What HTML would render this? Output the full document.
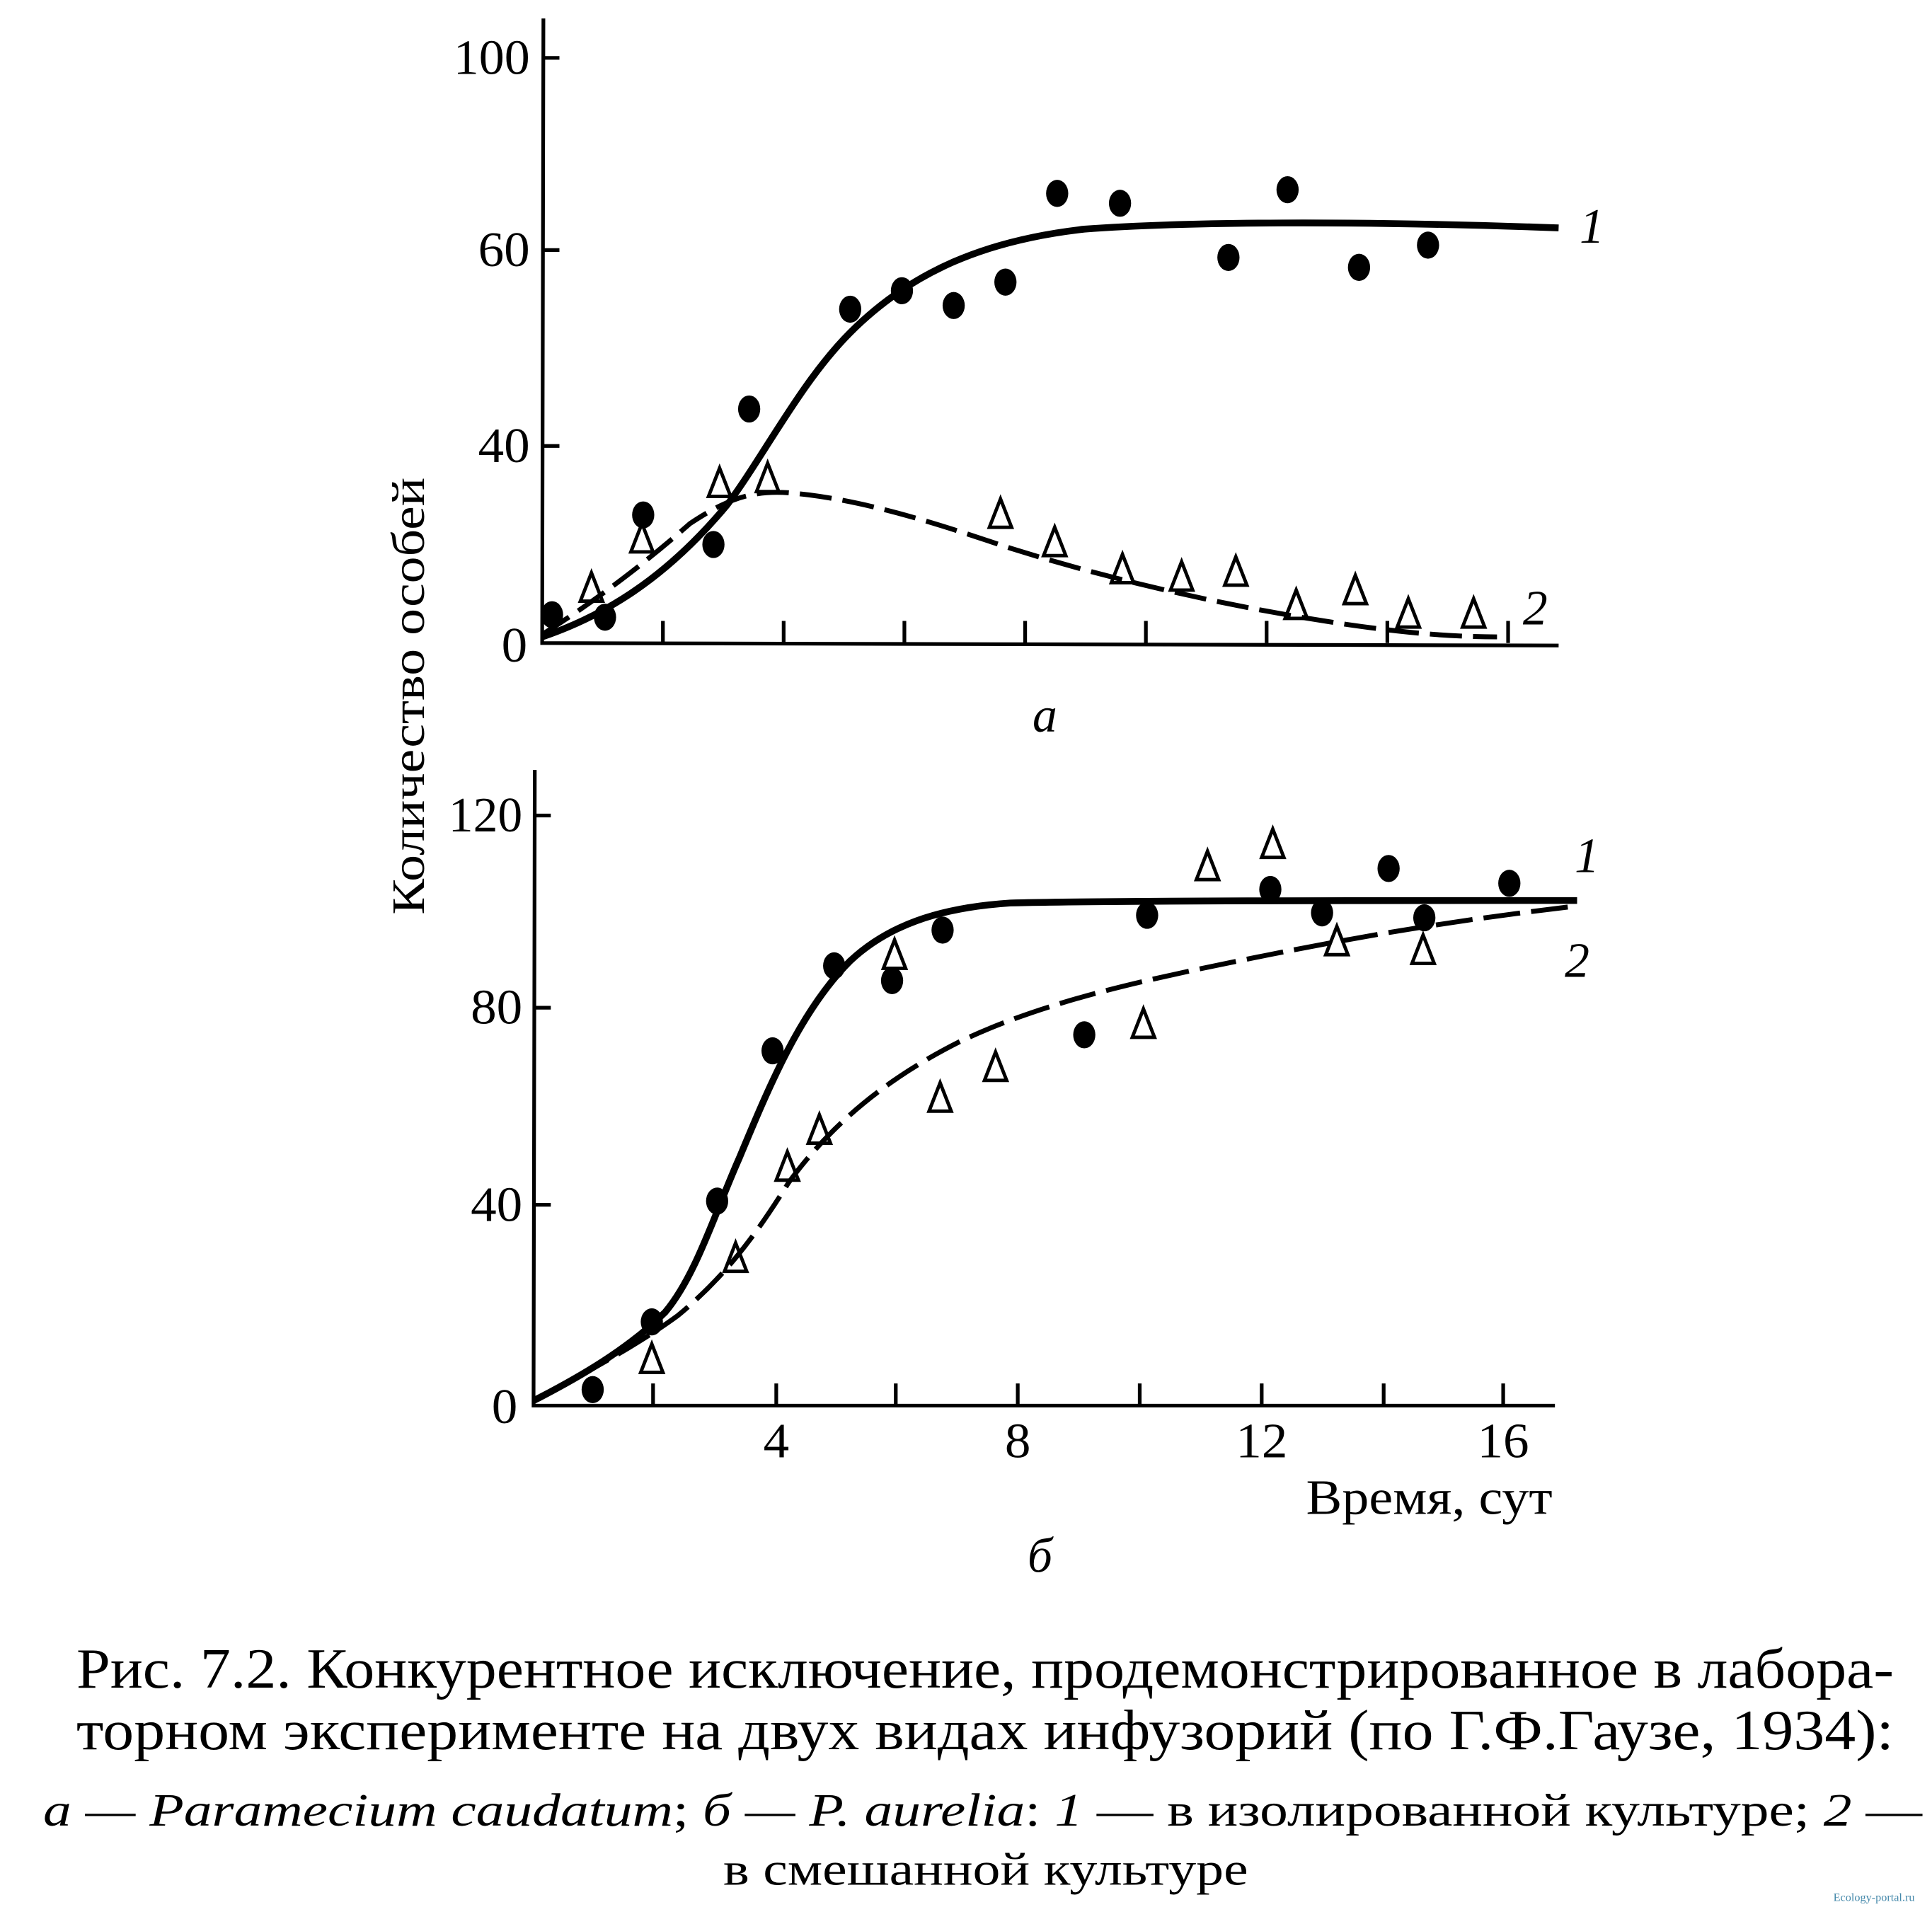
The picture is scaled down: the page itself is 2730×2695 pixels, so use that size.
<!DOCTYPE html>
<html><head><meta charset="utf-8"><style>html,body{margin:0;padding:0;background:#fff}svg{display:block}</style></head>
<body>
<svg width="2730" height="2695" viewBox="0 0 1568 1548" xmlns="http://www.w3.org/2000/svg" font-family="'Liberation Serif', 'Noto Serif CJK SC', serif">
<rect width="1568" height="1548" fill="#fff"/>
<defs>
<ellipse id="d" cx="0" cy="0" rx="9" ry="11" fill="#000"/>
<path id="t" d="M0,-12 L-9,11 L9,11 Z" fill="none" stroke="#000" stroke-width="2.8" stroke-linejoin="miter"/>
</defs>
<!-- Panel a axes -->
<g stroke="#000" stroke-width="3" fill="none">
<path d="M441,15 L440,522 L1265,524"/>
<path d="M440,47 h14 M440,203 h14 M440,362 h14"/>
<path d="M538,522 v-18 M636,522 v-18 M734,522 v-18 M832,522 v-18 M930,522 v-18 M1028,522 v-18 M1126,522 v-18 M1224,522 v-18"/>
</g>
<g font-size="40" text-anchor="end">
<text x="430" y="60" textLength="62" lengthAdjust="spacingAndGlyphs">100</text>
<text x="430" y="216" textLength="42" lengthAdjust="spacingAndGlyphs">60</text>
<text x="430" y="375" textLength="42" lengthAdjust="spacingAndGlyphs">40</text>
<text x="428" y="537" textLength="21" lengthAdjust="spacingAndGlyphs">0</text>
</g>
<path d="M440,517 C490,500 540,470 590,410 C620,370 650,310 690,270 C740,220 800,195 880,186 C960,180 1100,179 1265,185" fill="none" stroke="#000" stroke-width="5.5"/>
<path d="M440,515 C480,490 520,460 560,425 C590,405 610,398 640,400 C700,405 760,425 820,445 C900,470 980,488 1050,500 C1120,512 1170,517 1215,517" fill="none" stroke="#000" stroke-width="4" stroke-dasharray="26 9"/>
<g>
<use href="#d" x="448" y="499"/><use href="#d" x="491" y="501"/><use href="#d" x="522" y="418"/><use href="#d" x="579" y="442"/><use href="#d" x="608" y="332"/><use href="#d" x="690" y="251"/><use href="#d" x="732" y="236"/><use href="#d" x="774" y="248"/><use href="#d" x="816" y="229"/><use href="#d" x="858" y="157"/><use href="#d" x="909" y="165"/><use href="#d" x="997" y="209"/><use href="#d" x="1045" y="154"/><use href="#d" x="1103" y="217"/><use href="#d" x="1159" y="199"/>
<use href="#t" x="480" y="477"/><use href="#t" x="521" y="437"/><use href="#t" x="584" y="392"/><use href="#t" x="623" y="388"/><use href="#t" x="812" y="417"/><use href="#t" x="856" y="440"/><use href="#t" x="911" y="462"/><use href="#t" x="959" y="468"/><use href="#t" x="1003" y="464"/><use href="#t" x="1052" y="491"/><use href="#t" x="1100" y="479"/><use href="#t" x="1143" y="498"/><use href="#t" x="1196" y="498"/>
</g>
<g font-size="40" font-style="italic">
<text x="1282" y="197">1</text>
<text x="1236" y="507">2</text>
<text x="838" y="594">а</text>
</g>
<!-- Y label -->
<text transform="translate(344,565) rotate(-90)" font-size="38" text-anchor="middle" textLength="355" lengthAdjust="spacingAndGlyphs">Количество особей</text>
<!-- Panel b axes -->
<g stroke="#000" stroke-width="3" fill="none">
<path d="M434,625 L433,1141 L1262,1141"/>
<path d="M433,662 h14 M433,818 h14 M433,978 h14"/>
<path d="M530,1141 v-18 M630,1141 v-18 M727,1141 v-18 M826,1141 v-18 M925,1141 v-18 M1024,1141 v-18 M1123,1141 v-18 M1220,1141 v-18"/>
</g>
<g font-size="40" text-anchor="end">
<text x="424" y="675" textLength="60" lengthAdjust="spacingAndGlyphs">120</text>
<text x="424" y="831" textLength="42" lengthAdjust="spacingAndGlyphs">80</text>
<text x="424" y="991" textLength="42" lengthAdjust="spacingAndGlyphs">40</text>
<text x="420" y="1155" textLength="21" lengthAdjust="spacingAndGlyphs">0</text>
</g>
<g font-size="40" text-anchor="middle">
<text x="630" y="1183" textLength="21" lengthAdjust="spacingAndGlyphs">4</text>
<text x="826" y="1183" textLength="21" lengthAdjust="spacingAndGlyphs">8</text>
<text x="1024" y="1183" textLength="42" lengthAdjust="spacingAndGlyphs">12</text>
<text x="1220" y="1183" textLength="42" lengthAdjust="spacingAndGlyphs">16</text>
</g>
<text x="1260" y="1229" font-size="40" text-anchor="end" textLength="200" lengthAdjust="spacingAndGlyphs">Время, сут</text>
<text x="834" y="1276" font-size="40" font-style="italic">б</text>
<path d="M433,1137 C470,1118 510,1095 540,1065 C565,1035 580,985 600,940 C625,880 650,820 690,780 C720,752 760,737 820,733 C900,731 1100,731 1280,731" fill="none" stroke="#000" stroke-width="5.5"/>
<path d="M433,1137 C480,1112 520,1090 550,1068 C590,1035 615,1000 640,960 C680,905 730,870 780,845 C850,812 930,795 1030,775 C1130,755 1200,745 1275,736" fill="none" stroke="#000" stroke-width="4" stroke-dasharray="30 9"/>
<g>
<use href="#d" x="481" y="1128"/><use href="#d" x="529" y="1073"/><use href="#d" x="582" y="975"/><use href="#d" x="627" y="853"/><use href="#d" x="677" y="784"/><use href="#d" x="724" y="796"/><use href="#d" x="765" y="755"/><use href="#d" x="880" y="840"/><use href="#d" x="931" y="743"/><use href="#d" x="1031" y="722"/><use href="#d" x="1073" y="741"/><use href="#d" x="1127" y="705"/><use href="#d" x="1156" y="745"/><use href="#d" x="1225" y="717"/>
<use href="#t" x="529" y="1103"/><use href="#t" x="597" y="1021"/><use href="#t" x="639" y="947"/><use href="#t" x="665" y="917"/><use href="#t" x="726" y="775"/><use href="#t" x="763" y="891"/><use href="#t" x="808" y="866"/><use href="#t" x="928" y="831"/><use href="#t" x="980" y="703"/><use href="#t" x="1033" y="685"/><use href="#t" x="1085" y="764"/><use href="#t" x="1155" y="771"/>
</g>
<g font-size="40" font-style="italic">
<text x="1278" y="708">1</text>
<text x="1270" y="793">2</text>
</g>
<!-- Caption -->
<g font-size="46">
<text x="62" y="1370" textLength="1475" lengthAdjust="spacingAndGlyphs">Рис. 7.2. Конкурентное исключение, продемонстрированное в лабора-</text>
<text x="62" y="1420" textLength="1475" lengthAdjust="spacingAndGlyphs">торном эксперименте на двух видах инфузорий (по Г.Ф.Гаузе, 1934):</text>
</g>
<text x="35" y="1482" font-size="38" textLength="1525" lengthAdjust="spacingAndGlyphs"><tspan font-style="italic">а — Paramecium caudatum</tspan>; <tspan font-style="italic">б — P. aurelia</tspan>: <tspan font-style="italic">1</tspan> — в изолированной культуре; <tspan font-style="italic">2</tspan> —</text>
<text x="587" y="1530" font-size="38" textLength="426" lengthAdjust="spacingAndGlyphs">в смешанной культуре</text>
<text x="1488" y="1543" font-size="9" fill="#48a" textLength="66" lengthAdjust="spacingAndGlyphs">Ecology-portal.ru</text>
</svg>
</body></html>
